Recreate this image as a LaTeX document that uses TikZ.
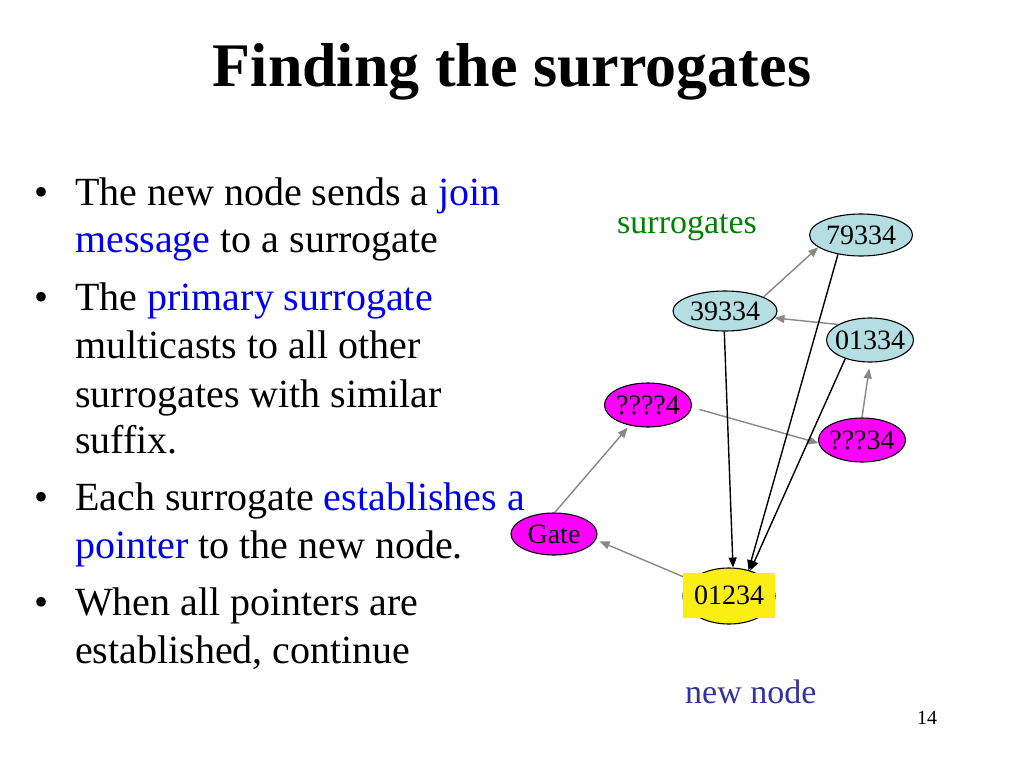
\documentclass[tikz,border=0pt]{standalone}
\usepackage{fontspec}
\setmainfont{Liberation Serif}
\usetikzlibrary{shapes.geometric,arrows.meta}
\definecolor{nodeblue}{RGB}{180,222,226}
\definecolor{arrgray}{RGB}{136,136,136}
\definecolor{txtblue}{RGB}{0,0,240}
\definecolor{txtgreen}{RGB}{0,128,0}
\definecolor{navyblue}{RGB}{51,51,153}
\definecolor{ylw}{RGB}{250,238,20}
\definecolor{mgnt}{RGB}{255,0,255}
\newcommand{\hl}[1]{\textcolor{txtblue}{#1}}
\begin{document}
\begin{tikzpicture}[x=1pt,y=-1pt,
  ell/.style={ellipse,draw=black,line width=1.1pt,inner sep=0pt,
    text height=19pt,text depth=0pt,font=\fontsize{28}{28}\selectfont},
  surr/.style={ell,fill=nodeblue},
  mag/.style={ell,fill=mgnt},
  garr/.style={draw=arrgray,line width=1.4pt,-{Triangle[length=10pt,width=8pt]}},
  barr/.style={draw=black,line width=1.4pt,-{Triangle[length=10pt,width=8pt]}},
  bul/.style={anchor=base west,inner sep=0pt,font=\fontsize{40}{48}\selectfont},
  dotb/.style={anchor=base,inner sep=0pt,font=\fontsize{40}{48}\selectfont},
  lbl/.style={anchor=base west,inner sep=0pt}]
\useasboundingbox[fill=white] (0,0) rectangle (1024,768);

% title
\node[anchor=base,inner sep=0pt,font=\bfseries\fontsize{62}{62}\selectfont] (title) at (512,86) {Finding the surrogates};

% bullets
\node[dotb] (d1) at (42,205) {•};
\node[bul] (t1) at (75,205) {The new node sends a \hl{join}};
\node[bul] (t2) at (75,252) {\hl{message} to a surrogate};
\node[dotb] (d2) at (42,310) {•};
\node[bul] (t3) at (75,310) {The \hl{primary surrogate}};
\node[bul] (t4) at (75,358) {multicasts to all other};
\node[bul] (t5) at (75,407) {surrogates with similar};
\node[bul] (t6) at (75,453) {suffix.};
\node[dotb] (d3) at (42,510) {•};
\node[bul] (t7) at (75,510) {Each surrogate \hl{establishes a}};
\node[bul] (t8) at (75,558) {\hl{pointer} to the new node.};
\node[dotb] (d4) at (42,615) {•};
\node[bul] (t9) at (75,615) {When all pointers are};
\node[bul] (t10) at (75,663) {established, continue};

% labels
\node[lbl,text=txtgreen,font=\fontsize{34}{34}\selectfont] (lblS) at (617,233) {surrogates};
\node[lbl,text=navyblue,font=\fontsize{34}{34}\selectfont] (lblN) at (685,703) {new node};
\node[lbl,font=\fontsize{20}{20}\selectfont] (pg) at (917,724) {14};

% graph nodes
\node[surr,minimum width=103pt,minimum height=42pt] (a) at (861,235) {\makebox[0pt]{79334}};
\node[surr,minimum width=104pt,minimum height=40pt] (b) at (725,311) {\makebox[0pt]{39334}};
\node[surr,minimum width=87pt,minimum height=44pt] (c) at (870,340) {\makebox[0pt]{01334}};
\node[mag,minimum width=87pt,minimum height=44pt] (d) at (648,405) {\makebox[0pt]{????4}};
\node[mag,minimum width=87pt,minimum height=44pt] (e) at (862,440) {\makebox[0pt]{???34}};
\node[mag,minimum width=86pt,minimum height=42pt] (g) at (554,534) {\makebox[0pt]{Gate}};
\node[ell,fill=ylw,minimum width=92pt,minimum height=56pt] (n) at (729,596) {};

% gray arrows
\draw[garr] (b.20) -- (a.196);
\draw[garr] (c.154) -- (b.352);
\draw[garr,shorten >=6pt] (e.90) -- (c.270);
\draw[garr,shorten <=8pt] (d.357) -- (e.184);
\draw[garr,shorten >=3pt] (g.88) -- (d.228);
\draw[garr,shorten >=4pt] (n) -- (g.-8);

% black arrows
\draw[barr] (b.268) -- (n.82);
\draw[barr] (a.220) -- (n.53);
\draw[barr] (c.217) -- (n.50);

% new node box
\node[fill=ylw,minimum width=92pt,minimum height=45pt,inner sep=0pt,
  font=\fontsize{28}{28}\selectfont] (nb) at (729,595.5) {01234};
\end{tikzpicture}
\end{document}
